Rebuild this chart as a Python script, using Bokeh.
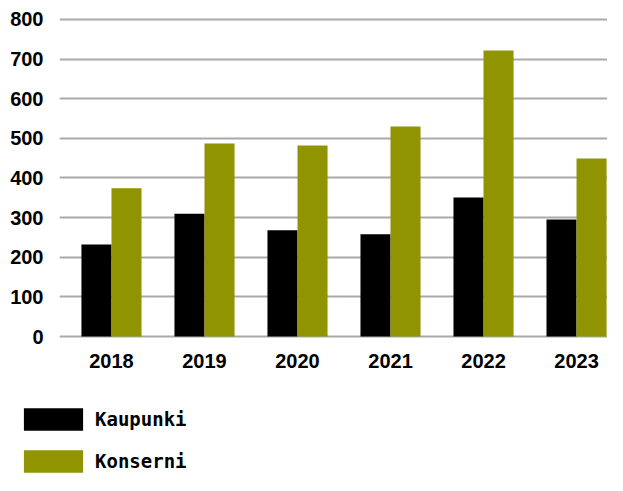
import numpy as np
from bokeh.plotting import figure
from bokeh.models import Range1d, FixedTicker, Legend, LegendItem, ColumnDataSource
from bokeh.layouts import column
from bokeh.embed import file_html
from bokeh.resources import INLINE

years = ["2018", "2019", "2020", "2021", "2022", "2023"]
kaupunki = [232, 310, 268, 258, 351, 295]
konserni = [374, 487, 482, 530, 722, 449]
yticks = [0, 100, 200, 300, 400, 500, 600, 700, 800]
series_names = ["Kaupunki", "Konserni"]
colors = ["#000000", "#8f9400"]

x = np.arange(len(years))
bw = 0.323
src = ColumnDataSource(dict(x=x, xk=x - bw / 2, xs=x + bw / 2, k=kaupunki, s=konserni))

p = figure(width=607, height=378, output_backend="svg", toolbar_location=None,
           x_range=Range1d(-0.559, 5.333), y_range=Range1d(-5, 810),
           min_border_left=59, min_border_right=0, min_border_top=15, min_border_bottom=40)
p.outline_line_color = None
p.background_fill_color = "white"
p.frame_align = False

p.vbar(x="xk", top="k", width=bw, source=src, color=colors[0], line_color=None)
p.vbar(x="xs", top="s", width=bw, source=src, color=colors[1], line_color=None)

p.xgrid.grid_line_color = None
p.ygrid.grid_line_color = "#a9a9a9"
p.ygrid.grid_line_width = 2
p.yaxis.ticker = FixedTicker(ticks=yticks)
p.xaxis.ticker = FixedTicker(ticks=list(x))
p.xaxis.major_label_overrides = {int(i): y for i, y in zip(x, years)}

for ax in (p.xaxis, p.yaxis):
    ax.axis_line_color = None
    ax.major_tick_line_color = None
    ax.minor_tick_line_color = None
    ax.major_tick_out = 0
    ax.major_tick_in = 0
    ax.minor_tick_out = 0
    ax.major_label_text_font = "Liberation Sans"
    ax.major_label_text_font_style = "bold"
    ax.major_label_text_font_size = "20px"
    ax.major_label_text_color = "#000000"
p.yaxis.major_label_standoff = 16
p.xaxis.major_label_standoff = 15

# legend figure (legend swatches only; its placeholder bars lie outside the view)
q = figure(width=607, height=97, output_backend="svg", toolbar_location=None,
           x_range=Range1d(0, 1), y_range=Range1d(0, 1),
           x_axis_type=None, y_axis_type=None, min_border=0)
q.grid.visible = False
q.outline_line_color = None
q.frame_align = False
r1 = q.vbar(x=[0.5], top=[-2], bottom=[-3], width=0.1, color=colors[0], line_color=None)
r2 = q.vbar(x=[0.5], top=[-2], bottom=[-3], width=0.1, color=colors[1], line_color=None)
leg = Legend(items=[LegendItem(label=series_names[0], renderers=[r1]),
                    LegendItem(label=series_names[1], renderers=[r2])],
             location=(16, 0), orientation="vertical",
             glyph_width=74, glyph_height=28, spacing=14, label_standoff=5,
             padding=0, margin=0, border_line_color=None, background_fill_alpha=0,
             label_text_font="DejaVu Sans Mono", label_text_font_style="bold",
             label_text_font_size="19px", label_text_color="#000000")
q.add_layout(leg, "center")

layout = column(p, q, spacing=0)
open("out.html", "w").write(file_html(layout, INLINE))
